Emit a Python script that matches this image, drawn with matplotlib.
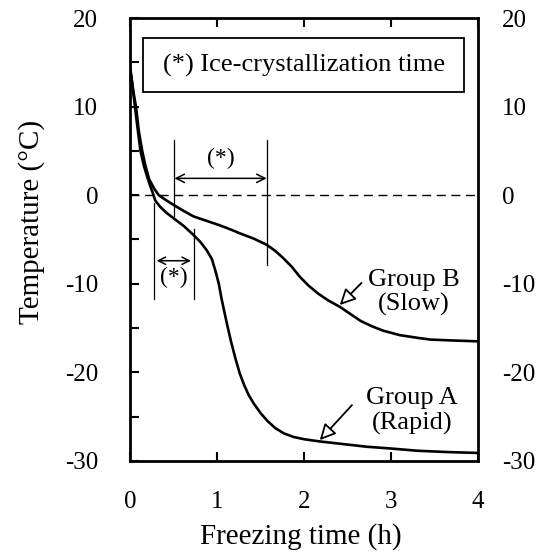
import matplotlib
matplotlib.use('Agg')
import matplotlib.pyplot as plt
from matplotlib.patches import Rectangle
from matplotlib.ticker import MultipleLocator

plt.rcParams['font.family'] = ['Liberation Serif', 'DejaVu Serif']
plt.rcParams['axes.unicode_minus'] = False

# Group A (Rapid) - freezing time (h) / temperature (C)
time_a = [0, 0.02, 0.04, 0.06, 0.09, 0.12, 0.16, 0.20, 0.23, 0.26, 0.29, 0.345,
          0.42, 0.50, 0.62, 0.73, 0.81, 0.88, 0.94, 0.98, 1.02, 1.05, 1.08, 1.12,
          1.16, 1.21, 1.26, 1.31, 1.36, 1.42, 1.50, 1.58, 1.67, 1.77, 1.88, 2.0,
          2.18, 2.45, 2.72, 3.0, 3.30, 3.65, 4.0]
temp_a = [14.5, 13.0, 11.4, 9.7, 7.3, 5.0, 3.3, 2.0, 1.1, 0.3, -0.6, -1.3,
          -2.0, -2.6, -3.5, -4.5, -5.3, -6.2, -7.2, -8.5, -10.0, -11.6, -13.0, -14.8,
          -16.5, -18.4, -20.1, -21.4, -22.5, -23.5, -24.6, -25.5, -26.3, -26.9, -27.3, -27.55,
          -27.8, -28.1, -28.4, -28.6, -28.85, -29.0, -29.1]

# Group B (Slow)
time_b = [0, 0.02, 0.04, 0.07, 0.10, 0.14, 0.18, 0.22, 0.28, 0.33, 0.42, 0.50,
          0.62, 0.73, 0.88, 1.03, 1.15, 1.26, 1.42, 1.57, 1.67, 1.76, 1.86, 1.95,
          2.05, 2.16, 2.28, 2.41, 2.53, 2.65, 2.78, 2.91, 3.1, 3.30, 3.45, 3.7, 4.0]
temp_b = [14.5, 13.0, 11.6, 9.9, 7.3, 5.0, 3.2, 1.8, 0.7, 0.0, -0.6, -1.1,
          -1.8, -2.4, -2.9, -3.4, -3.85, -4.3, -4.9, -5.6, -6.3, -7.1, -8.1, -9.2,
          -10.2, -11.1, -11.9, -12.6, -13.4, -14.2, -14.8, -15.3, -15.8, -16.1, -16.3, -16.4, -16.5]

# ice-crystallization intervals (h)
ice_a = [0.276, 0.73]
ice_b = [0.51, 1.57]

fig = plt.figure(figsize=(5.44, 5.54), dpi=100)
ax = fig.add_axes([0.239, 0.168, 0.640, 0.7995])

ax.plot(time_a, temp_a, color='black', lw=1.9, solid_joinstyle='round')
ax.plot(time_b, temp_b, color='black', lw=1.9, solid_joinstyle='round')
ax.plot([0, 4], [0, 0], color='black', lw=1.0, dashes=(6.5, 4))

# интервалы кристаллизации
ax.plot([ice_b[0], ice_b[0]], [6.2, -2.3], color='black', lw=0.9)
ax.plot([ice_b[1], ice_b[1]], [6.2, -7.9], color='black', lw=0.9)
ax.annotate('', xy=(ice_b[0], 1.9), xytext=(ice_b[1], 1.9),
            arrowprops=dict(arrowstyle='<->', lw=1.1, color='black',
                            shrinkA=0, shrinkB=0, mutation_scale=15))
ax.text(sum(ice_b) / 2, 4.1, '(*)', fontsize=17, ha='center', va='center')

ax.plot([ice_a[0], ice_a[0]], [-0.9, -11.7], color='black', lw=0.9)
ax.plot([ice_a[1], ice_a[1]], [-3.8, -11.7], color='black', lw=0.9)
ax.annotate('', xy=(ice_a[0] + 0.03, -7.4), xytext=(ice_a[1] - 0.03, -7.4),
            arrowprops=dict(arrowstyle='<->', lw=1.1, color='black',
                            shrinkA=0, shrinkB=0, mutation_scale=13))
ax.text(sum(ice_a) / 2, -9.3, '(*)', fontsize=17, ha='center', va='center')

# рамка с пояснением
ax.add_patch(Rectangle((0.146, 11.7), 3.694, 6.05, fill=False, lw=1.3, ec='black'))
ax.text(2.0, 14.6, '(*) Ice-crystallization time', fontsize=19,
        ha='center', va='center')

# подписи групп и стрелки
ax.text(3.26, -11.0, 'Group B\n(Slow)', fontsize=19, ha='center', va='center',
        linespacing=1.15)
ax.annotate('', xy=(2.41, -12.4), xytext=(2.66, -9.9),
            arrowprops=dict(arrowstyle='-|>', lw=1.3, fc='white', ec='black',
                            mutation_scale=24, shrinkA=0, shrinkB=0))
ax.text(3.24, -24.35, 'Group A\n(Rapid)', fontsize=19, ha='center', va='center',
        linespacing=1.15)
ax.annotate('', xy=(2.18, -27.65), xytext=(2.55, -23.7),
            arrowprops=dict(arrowstyle='-|>', lw=1.3, fc='white', ec='black',
                            mutation_scale=24, shrinkA=0, shrinkB=0))

ax.set_xlim(0, 4)
ax.set_ylim(-30, 20)
ax.xaxis.set_major_locator(MultipleLocator(1))
ax.yaxis.set_major_locator(MultipleLocator(10))
ax.yaxis.set_minor_locator(MultipleLocator(5))
ax.tick_params(axis='both', which='both', direction='in', top=True, right=True,
               length=6.5, width=1.5, labelsize=18)
ax.tick_params(axis='y', pad=23)
ax.tick_params(axis='x', pad=22)
for s in ax.spines.values():
    s.set_linewidth(2.0)

# правая шкала
ax_r = ax.twinx()
ax_r.set_ylim(-30, 20)
ax_r.yaxis.set_major_locator(MultipleLocator(10))
ax_r.tick_params(axis='y', direction='in', length=0, labelsize=18, pad=17)
for s in ax_r.spines.values():
    s.set_visible(False)

ax.set_xlabel('Freezing time (h)', fontsize=21)
ax.set_ylabel('Temperature (°C)', fontsize=21)
ax.xaxis.set_label_coords(0.49, -0.14)
ax.yaxis.set_label_coords(-0.245, 0.54)

fig.savefig('out.png', dpi=100)
